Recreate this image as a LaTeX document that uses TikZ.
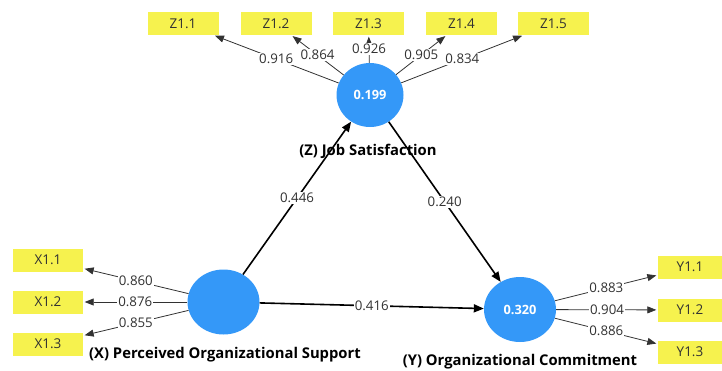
\documentclass[tikz,border=0pt]{standalone}
\usepackage{fontspec}
\setmainfont{Open Sans}
\usetikzlibrary{shapes.geometric,arrows.meta}
\definecolor{lvblue}{RGB}{52,152,248}
\definecolor{indyel}{RGB}{246,242,78}
\definecolor{txtgray}{RGB}{50,50,50}
\begin{document}
\begin{tikzpicture}[x=1pt,y=-1pt,
 lv/.style={ellipse, fill=lvblue, minimum width=72pt, minimum height=65pt, inner sep=0pt, text=white, font=\fontsize{12.8}{14}\selectfont\bfseries},
 ind/.style={rectangle, fill=indyel, minimum width=71pt, minimum height=23pt, inner sep=0pt, text=txtgray, font=\fontsize{13.5}{15}\selectfont},
 lbl/.style={fill=white, inner sep=1pt, text=txtgray, font=\fontsize{13.3}{15}\selectfont},
 ldg/.style={draw=txtgray, line width=0.8pt, shorten >=1.5pt, -{Triangle[length=9pt,width=7pt]}},
 pth/.style={draw=black, line width=1.6pt, -{Triangle[length=10pt,width=8pt]}},
 lvname/.style={font=\fontsize{14.8}{16}\selectfont\bfseries, text=black}
]
\useasboundingbox (0,0) rectangle (722,370);
% latent variables
\node[lv, minimum width=67pt, minimum height=64pt] (Z) at (370,95) {0.199};
\node[lv] (X) at (223.5,302) {};
\node[lv] (Y) at (520,309.5) {0.320};
% names
\node[lvname] (Zn) at (368,151) {(Z) Job Satisfaction};
\node[lvname] (Xn) at (225,355) {(X) Perceived Organizational Support};
\node[lvname] (Yn) at (520,362) {(Y) Organizational Commitment};
% indicators
\node[ind] (Z11) at (183,23.5) {Z1.1};
\node[ind] (Z12) at (276,23.5) {Z1.2};
\node[ind] (Z13) at (368.5,23.5) {Z1.3};
\node[ind] (Z14) at (461.5,23.5) {Z1.4};
\node[ind] (Z15) at (553.5,23.5) {Z1.5};
\node[ind, minimum width=70pt] (X11) at (48,260) {X1.1};
\node[ind, minimum width=70pt] (X12) at (48,302) {X1.2};
\node[ind, minimum width=70pt] (X13) at (48,344) {X1.3};
\node[ind, minimum width=64pt] (Y11) at (690,267) {Y1.1};
\node[ind, minimum width=64pt] (Y12) at (690,310) {Y1.2};
\node[ind, minimum width=64pt] (Y13) at (690,352) {Y1.3};
% outer loadings
\draw[ldg] (Z) -- node[lbl] {0.916} (Z11);
\draw[ldg] (Z) -- node[lbl] {0.864} (Z12);
\draw[ldg] (Z) -- node[lbl] {0.926} (Z13);
\draw[ldg] (Z) -- node[lbl] {0.905} (Z14);
\draw[ldg] (Z) -- node[lbl] {0.834} (Z15);
\draw[ldg] (X) -- node[lbl] {0.860} (X11);
\draw[ldg] (X) -- node[lbl] {0.876} (X12);
\draw[ldg] (X) -- node[lbl] {0.855} (X13);
\draw[ldg] (Y) -- node[lbl] {0.883} (Y11);
\draw[ldg] (Y) -- node[lbl] {0.904} (Y12);
\draw[ldg] (Y) -- node[lbl] {0.886} (Y13);
% path coefficients
\draw[pth] (X) -- node[lbl] {0.446} (Z);
\draw[pth] (Z) -- node[lbl] {0.240} (Y);
\draw[pth] (X) -- node[lbl] {0.416} (Y);
\end{tikzpicture}
\end{document}
